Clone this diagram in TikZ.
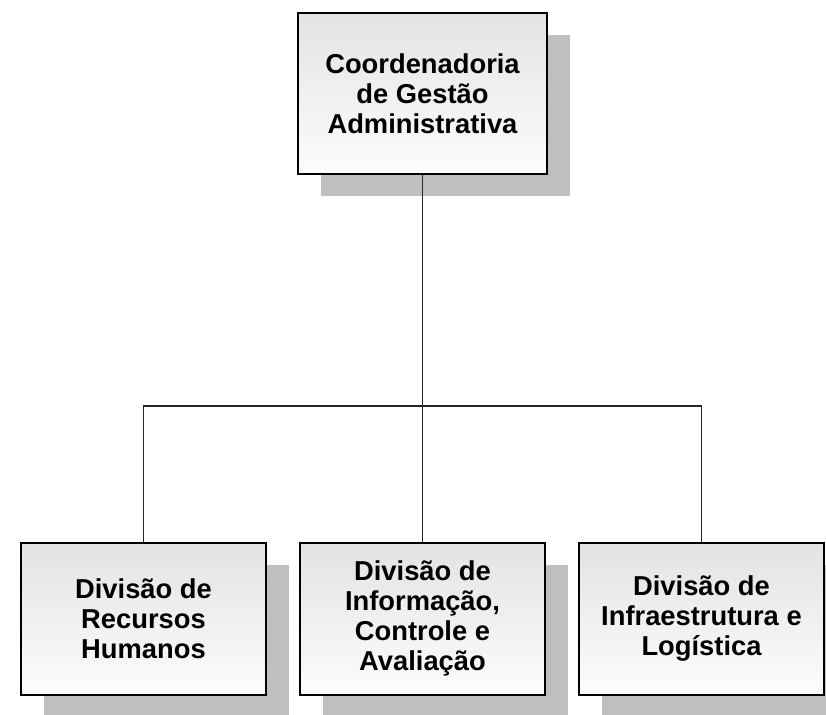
\documentclass[tikz,border=0pt]{standalone}
\usepackage{fontspec}
\setmainfont{Liberation Sans}
\usepackage{tikz}
\usetikzlibrary{trees,shadows}
\usepackage{xcolor}

\tikzset{
  orgbox/.style={draw=black, line width=1.5pt, top color=black!11, bottom color=black!1,
    drop shadow={shadow xshift=17.25pt, shadow yshift=-16.5pt, fill=black!25, opacity=1},
    align=center, inner sep=0pt, font=\bfseries\fontsize{20.5}{22.5}\selectfont},
  orgline/.style={draw=black!85, line width=0.8pt}
}

\begin{document}
\begin{tikzpicture}[level distance=394pt,sibling distance=209.25pt,
	every node/.style={orgbox,minimum width=183.75pt,minimum height=114pt},
	edge from parent/.style={orgline},
	edge from parent path={(\tikzparentnode.south) -- ++(0,-173.25pt) -| (\tikzchildnode.north)}]
	\useasboundingbox (-316.875pt,70.125pt) rectangle (302.625pt,-466.125pt);
	\node (cga) [minimum width=186.75pt,minimum height=120.75pt] {Coordenadoria\\de Gestão\\Administrativa}
		child { node (drh) {Divisão de\\Recursos\\Humanos} }
		child { node (dica) {Divisão de\\Informação,\\Controle e\\Avaliação} }
		child { node (dil) {Divisão de\\Infraestrutura e\\Logística} }
	;
\end{tikzpicture}
\end{document}
